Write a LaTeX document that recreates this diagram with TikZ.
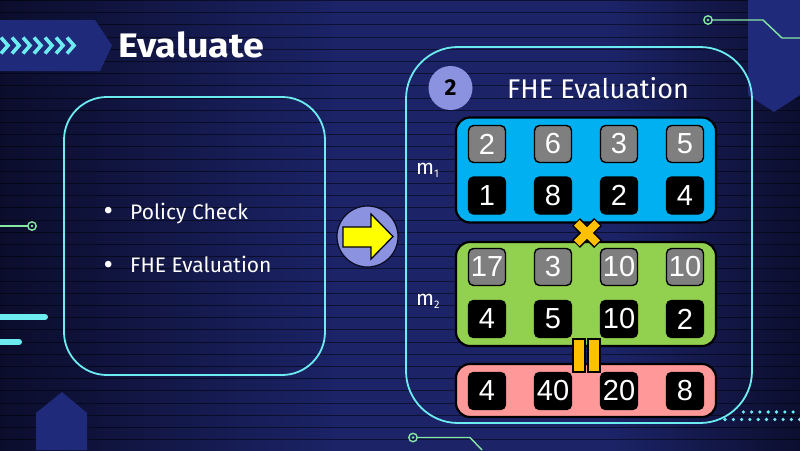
\documentclass[tikz,border=0pt]{standalone}
\usepackage{fontspec}
\usetikzlibrary{calc}
\setmainfont{Fira Sans}
\newfontfamily\titlefont{Fira Sans}
\newfontfamily\numfont{Liberation Sans}
\definecolor{bgA}{HTML}{1C2367}
\definecolor{bgB}{HTML}{05071A}
\definecolor{bannerblue}{HTML}{1F2A7A}
\definecolor{cyanline}{HTML}{6CECF0}
\definecolor{circuitgreen}{HTML}{86E8A4}
\definecolor{lav}{HTML}{8B93E0}
\definecolor{m1blue}{HTML}{00B0F0}
\definecolor{m2green}{HTML}{92D050}
\definecolor{respink}{HTML}{FF9999}
\definecolor{cellgray}{HTML}{7F7F7F}
\definecolor{opyellow}{HTML}{FFC000}
\definecolor{arrowyellow}{HTML}{FFFF00}
\begin{document}
\begin{tikzpicture}[x=1pt,y=-1pt,
  bgline/.style={draw=black, opacity=0.5, line width=1pt},
  panelframe/.style={draw=cyanline, line width=1.8pt},
  circuit/.style={draw=circuitgreen, line width=1.4pt},
  panel/.style={draw=black, line width=2.2pt, rounded corners=14pt, inner sep=0pt},
  cell/.style={draw=black, line width=1.4pt, rounded corners=5pt, minimum width=37pt, minimum height=37pt, inner sep=0pt, text=white, font=\numfont\fontsize{29}{29}\selectfont},
  graycell/.style={cell, fill=cellgray},
  blackcell/.style={cell, fill=black},
  bullettext/.style={anchor=base west, inner sep=0pt, text=white, font=\fontsize{21}{21}\selectfont},
  mlabel/.style={anchor=base west, inner sep=0pt, text=white, font=\fontsize{21}{21}\selectfont},
  opbar/.style={fill=opyellow, draw=black, line width=1.3pt},
]
\useasboundingbox (0,0) rectangle (800,450);
\clip (0,0) rectangle (800,450);
% background
\fill[bgA] (-10,-10) rectangle (810,460);
\shade[left color=bgB, right color=bgA] (-100,-10) rectangle (340,460);
\shade[left color=bgA, right color=bgB] (610,-10) rectangle (870,460);
\foreach \i in {0,...,37}{\draw[bgline] (0,{\i*12.2+0.5}) -- (800,{\i*12.2+0.5});}

% decorations
\fill[bannerblue] (0,20) -- (95,20) -- (112,45.5) -- (100,71) -- (0,71) -- cycle;
\foreach \i in {0,...,6}{
  \draw[cyanline, line width=3.6pt, line cap=butt, line join=miter] ({1+11*\i},37.5) -- ({8+11*\i},45.5) -- ({1+11*\i},53.5);
}
\fill[bannerblue] (748,0) -- (800,0) -- (800,95) -- (774,112) -- (748,95) -- cycle;
\fill[bannerblue] (36,450) -- (36,413) -- (62,392) -- (87,413) -- (87,450) -- cycle;

\coordinate (gl0) at (0,226);
\coordinate (gl1) at (28,226);
\draw[circuit] (gl0) -- (gl1);
\draw[circuit] (32,226) circle (4.2);
\fill[circuitgreen] (32,226) circle (1.4);

\draw[circuit] (712.5,20) -- (763,20) -- (782,38) -- (800,38);
\draw[circuit] (708,20) circle (4.2);
\fill[circuitgreen] (708,20) circle (1.4);

\draw[circuit] (417.5,437.5) -- (470,437.5) -- (482,450);
\draw[circuit] (413,437.5) circle (4.2);
\fill[circuitgreen] (413,437.5) circle (1.4);

\draw[cyanline, line width=6pt, line cap=round] (-5,317) -- (45,317);
\draw[cyanline, line width=6pt, line cap=round] (-5,342) -- (19,342);

\foreach \i in {0,...,7}{\fill[cyanline] ({743.3+8.3*\i},412) circle (1.8);}
\foreach \i in {0,...,9}{\fill[cyanline] ({725+8.3*\i},419.5) circle (1.8);}

% title
\node[anchor=base west, inner sep=0pt, text=white, font=\titlefont\bfseries\fontsize{34}{34}\selectfont] (title) at (118,57) {\scalebox{1.11}[1]{Evaluate}};

% left panel
\draw[panelframe, rounded corners=43pt] (64,97) rectangle (325,375);
\node[bullettext] (b1) at (103.5,219) {\makebox[26.5pt][l]{\fontsize{29}{29}\selectfont\raisebox{-1.5pt}{•}}Policy Check};
\node[bullettext] (b2) at (103.5,272.5) {\makebox[26.5pt][l]{\fontsize{29}{29}\selectfont\raisebox{-1.5pt}{•}}FHE Evaluation};

% arrow circle
\node[circle, fill=lav, draw=black!70!bgA, line width=1.2pt, minimum size=61pt, inner sep=0pt] (arrowc) at (367.5,236.5) {};
\draw[fill=arrowyellow, draw=black, line width=1.3pt, line join=miter] (343,227) -- (371,227) -- (371,214) -- (393,236.5) -- (371,259) -- (371,247) -- (343,247) -- cycle;

% right panel
\draw[panelframe, rounded corners=52pt] (406,47) rectangle (752,423);
\node[circle, fill=lav, minimum size=44pt, inner sep=0pt, text=black, font=\titlefont\bfseries\fontsize{23}{23}\selectfont] (stepnum) at (450.5,88) {2};
\node[anchor=base west, inner sep=0pt, text=white, font=\titlefont\fontsize{27}{27}\selectfont] (fhetitle) at (507,98) {FHE Evaluation};

\node[mlabel] (m1lab) at (416,174) {m\raisebox{-3.5pt}{\fontsize{11}{11}\selectfont 1}};
\node[mlabel] (m2lab) at (416,305) {m\raisebox{-3.5pt}{\fontsize{11}{11}\selectfont 2}};

\node[panel, fill=m1blue, minimum width=260pt, minimum height=105pt] (m1box) at (586,170) {};
\node[panel, fill=m2green, minimum width=260pt, minimum height=104pt] (m2box) at (586,294) {};
\node[panel, fill=respink, minimum width=260pt, minimum height=53pt] (resbox) at (586,390.5) {};

% m1 cells
\node[graycell] (a1) at (487,144) {2};
\node[graycell] (a2) at (553,144) {6};
\node[graycell] (a3) at (619,144) {3};
\node[graycell] (a4) at (685,144) {5};
\node[blackcell] (b1c) at (487,195.5) {1};
\node[blackcell] (b2c) at (553,195.5) {8};
\node[blackcell] (b3c) at (619,195.5) {2};
\node[blackcell] (b4c) at (685,195.5) {4};
% m2 cells
\node[graycell] (c1) at (487,267) {17};
\node[graycell] (c2) at (553,267) {3};
\node[graycell] (c3) at (619,267) {10};
\node[graycell] (c4) at (685,267) {10};
\node[blackcell] (d1) at (487,319) {4};
\node[blackcell] (d2) at (553,319) {5};
\node[blackcell] (d3) at (619,319) {10};
\node[blackcell] (d4) at (685,319) {2};
% result cells
\node[blackcell] (e1) at (487,391) {4};
\node[blackcell] (e2) at (553,391) {40};
\node[blackcell] (e3) at (619,391) {20};
\node[blackcell] (e4) at (685,391) {8};

% times sign
\coordinate (xc) at (587,233);
\draw[black, line width=11pt] ($(xc)+(-11,-11)$) -- ($(xc)+(11,11)$);
\draw[black, line width=11pt] ($(xc)+(-11,11)$) -- ($(xc)+(11,-11)$);
\draw[opyellow, line width=8pt, shorten <=1.1pt, shorten >=1.1pt] ($(xc)+(-11,-11)$) -- ($(xc)+(11,11)$);
\draw[opyellow, line width=8pt, shorten <=1.1pt, shorten >=1.1pt] ($(xc)+(-11,11)$) -- ($(xc)+(11,-11)$);

% equals sign
\draw[opbar] (573,339) rectangle (585,372);
\draw[opbar] (588,339) rectangle (600,372);
\end{tikzpicture}
\end{document}
